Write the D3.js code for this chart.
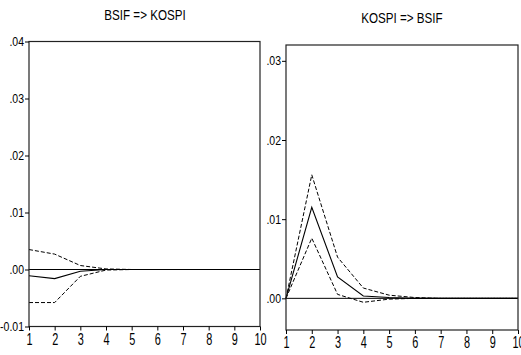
<!DOCTYPE html>
<html>
<head>
<meta charset="utf-8">
<script src="https://cdn.jsdelivr.net/npm/d3@7"></script>
<style>
  html, body { margin: 0; padding: 0; background: #fff; }
  svg { display: block; }
  text { font-family: "Liberation Sans", Arial, sans-serif; fill: #000; }
</style>
</head>
<body>
<svg id="chart" width="521" height="355"></svg>
<script>
const periods = [1, 2, 3, 4, 5, 6, 7, 8, 9, 10];

// Panel 1: BSIF => KOSPI
const title1 = "BSIF => KOSPI";
const resp1  = [-0.0011, -0.0016, -0.0003, 0.0000, 0.0000, 0.0000, 0.0000, 0.0000, 0.0000, 0.0000];
const upper1 = [0.0035, 0.0027, 0.0007, 0.0001, 0.0000, 0.0000, 0.0000, 0.0000, 0.0000, 0.0000];
const lower1 = [-0.0058, -0.0058, -0.0012, -0.0001, 0.0000, 0.0000, 0.0000, 0.0000, 0.0000, 0.0000];
const yTicks1 = [-0.01, 0.00, 0.01, 0.02, 0.03, 0.04];
const yDomain1 = [-0.01, 0.04];

// Panel 2: KOSPI => BSIF
const title2 = "KOSPI => BSIF";
const resp2  = [0.0000, 0.0115, 0.0027, 0.0003, 0.0001, 0.0000, 0.0000, 0.0000, 0.0000, 0.0000];
const upper2 = [0.0000, 0.0156, 0.0052, 0.0013, 0.0004, 0.0001, 0.0000, 0.0000, 0.0000, 0.0000];
const lower2 = [0.0000, 0.0076, 0.0005, -0.0005, -0.0001, 0.0000, 0.0000, 0.0000, 0.0000, 0.0000];
const yTicks2 = [0.00, 0.01, 0.02, 0.03];
const yDomain2 = [-0.004, 0.032];

const svg = d3.select("#chart");

const fmt = v => {
  const s = d3.format(".2f")(v);
  return s.replace(/^(-?)0\./, "$1.").replace("−", "-");
};

// condense text horizontally (narrow-font look)
function condense(sel, ratio) {
  sel.each(function () {
    const len = this.getComputedTextLength();
    d3.select(this)
      .attr("textLength", (len * ratio).toFixed(2))
      .attr("lengthAdjust", "spacingAndGlyphs");
  });
}

function panel(cfg) {
  const x = d3.scaleLinear().domain([1, 10]).range([cfg.left, cfg.right]);
  const y = d3.scaleLinear().domain(cfg.yDomain).range([cfg.bottom, cfg.top]);
  const g = svg.append("g");

  // title
  const t = g.append("text")
    .attr("x", cfg.titleX).attr("y", cfg.titleY)
    .attr("text-anchor", "middle")
    .style("font-size", "14px")
    .text(cfg.title);
  condense(t, 0.83);

  // zero line
  g.append("line")
    .attr("x1", x(1)).attr("x2", x(10))
    .attr("y1", y(0)).attr("y2", y(0))
    .attr("stroke", "#000").attr("stroke-width", 1);

  const line = d3.line().x((d, i) => x(periods[i])).y(d => y(d));

  g.append("path").datum(cfg.upper).attr("d", line)
    .attr("fill", "none").attr("stroke", "#000").attr("stroke-width", 1)
    .attr("stroke-dasharray", "4,2");
  g.append("path").datum(cfg.lower).attr("d", line)
    .attr("fill", "none").attr("stroke", "#000").attr("stroke-width", 1)
    .attr("stroke-dasharray", "4,2");
  g.append("path").datum(cfg.resp).attr("d", line)
    .attr("fill", "none").attr("stroke", "#000").attr("stroke-width", 1.1);

  // frame
  g.append("rect")
    .attr("x", cfg.left).attr("y", cfg.top)
    .attr("width", cfg.right - cfg.left).attr("height", cfg.bottom - cfg.top)
    .attr("fill", "none").attr("stroke", "#222").attr("stroke-width", 1.2);

  // y axis
  const ya = g.append("g").attr("transform", `translate(${cfg.left},0)`)
    .call(d3.axisLeft(y).tickValues(cfg.yTicks).tickSize(4).tickPadding(1).tickFormat(fmt));
  ya.select(".domain").remove();
  ya.selectAll("text").style("font-size", "12.5px").style("font-family", "Liberation Sans, Arial, sans-serif");
  condense(ya.selectAll("text"), 0.84);

  // x axis
  const xa = g.append("g").attr("transform", `translate(0,${cfg.bottom})`)
    .call(d3.axisBottom(x).tickValues(periods).tickSize(4).tickPadding(3).tickFormat(d3.format("d")));
  xa.select(".domain").remove();
  xa.selectAll("text").style("font-size", "16px").style("font-family", "Liberation Sans, Arial, sans-serif");
  condense(xa.selectAll("text"), 0.68);
}

panel({
  title: title1, titleX: 145, titleY: 20,
  left: 29, right: 260, top: 41.5, bottom: 326.5,
  yDomain: yDomain1, yTicks: yTicks1,
  resp: resp1, upper: upper1, lower: lower1
});

panel({
  title: title2, titleX: 402, titleY: 23,
  left: 286, right: 518, top: 45, bottom: 330,
  yDomain: yDomain2, yTicks: yTicks2,
  resp: resp2, upper: upper2, lower: lower2
});
</script>
</body>
</html>
